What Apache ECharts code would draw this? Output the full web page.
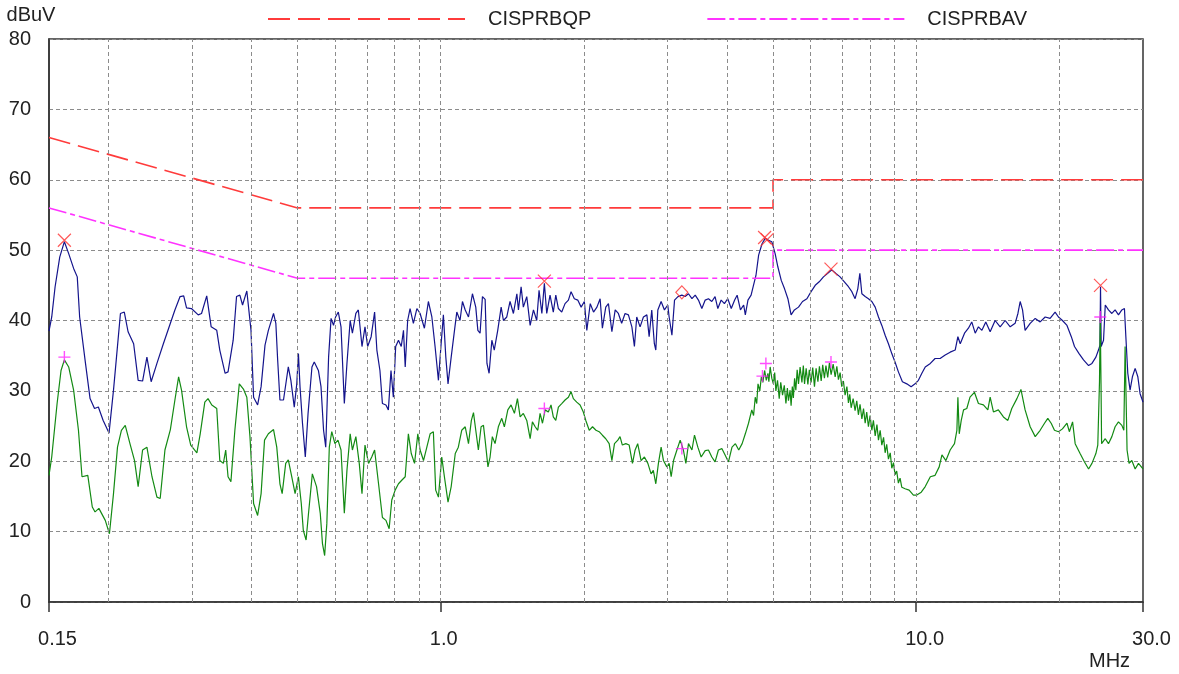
<!DOCTYPE html>
<html><head><meta charset="utf-8">
<script src="https://cdn.jsdelivr.net/npm/echarts@6/dist/echarts.min.js"></script>
<style>html,body{margin:0;padding:0;background:#fff}#c{width:1179px;height:674px}</style>
</head><body><div id="c"></div>
<script>
// ---- data ----
const xGridValues = [0.2,0.3,0.4,0.5,0.6,0.7,0.8,0.9,1,2,3,4,5,6,7,8,9,10,20];
const yTicks = [0,10,20,30,40,50,60,70,80];
const qpLimit = [[0.15,66],[0.5,56],[5,56],[5,60],[30,60]];
const avLimit = [[0.15,56],[0.5,46],[5,46],[5,50],[30,50]];
const qpPeaks = [[0.1616,51.4],[1.652,45.6],[4.80,51.8],[4.86,51.5],[6.62,47.3],[24.42,45.0]];
const qpDiamond = [[3.215,44.0]];
const avPeaks = [[0.1616,34.8],[1.652,27.5],[3.215,21.8],[4.75,32.1],[4.83,33.9],[6.62,34.1],[24.39,40.5]];
const blueTrace = [
[0.150,38.5],[0.152,40.5],[0.1545,44.8],[0.158,49.0],[0.1616,51.2],[0.165,49.5],[0.169,47.4],[0.172,46.2],[0.174,40.5],[0.179,33.9],[0.183,28.9],[0.187,27.5],[0.1905,27.7],[0.195,25.8],[0.2006,24.0],[0.205,30.1],[0.208,34.8],[0.212,41.0],[0.216,41.2],[0.220,38.4],[0.226,36.7],[0.231,31.5],[0.236,31.4],[0.241,34.8],[0.246,31.3],[0.253,33.9],[0.261,36.7],[0.270,39.6],[0.276,41.5],[0.283,43.4],[0.288,43.5],[0.292,41.8],[0.299,41.7],[0.309,40.8],[0.314,41.0],[0.322,43.5],[0.329,39.1],[0.338,38.6],[0.343,35.8],[0.352,32.5],[0.357,32.7],[0.366,37.2],[0.372,43.4],[0.378,43.6],[0.383,42.2],[0.391,44.2],[0.394,44.0],[0.399,38.6],[0.404,29.1],[0.412,28.0],[0.419,30.6],[0.427,36.5],[0.434,38.6],[0.445,41.0],[0.450,39.6],[0.454,34.4],[0.459,28.7],[0.467,28.7],[0.478,33.4],[0.484,31.5],[0.492,27.7],[0.498,31.0],[0.502,35.3],[0.506,30.5],[0.512,25.4],[0.519,20.6],[0.526,26.8],[0.536,33.4],[0.542,34.1],[0.553,32.9],[0.560,30.6],[0.567,24.4],[0.573,22.0],[0.581,34.8],[0.588,40.3],[0.595,39.3],[0.601,40.5],[0.609,41.2],[0.617,39.1],[0.627,28.2],[0.635,33.9],[0.645,40.0],[0.652,38.2],[0.663,41.0],[0.671,41.5],[0.683,36.3],[0.693,39.1],[0.702,36.3],[0.714,37.7],[0.726,41.2],[0.734,35.8],[0.745,32.9],[0.754,28.2],[0.767,28.0],[0.776,27.3],[0.786,32.9],[0.795,29.1],[0.804,36.3],[0.815,37.2],[0.826,36.3],[0.835,38.6],[0.842,33.4],[0.852,40.0],[0.862,41.7],[0.876,39.6],[0.891,41.7],[0.905,41.0],[0.924,38.9],[0.942,42.7],[0.958,40.5],[0.973,36.3],[0.989,31.5],[1.001,36.3],[1.013,40.8],[1.025,34.8],[1.036,31.0],[1.052,34.8],[1.069,38.6],[1.081,41.2],[1.098,40.0],[1.111,42.7],[1.126,41.5],[1.144,40.5],[1.166,43.8],[1.185,41.9],[1.197,38.6],[1.210,38.2],[1.224,43.4],[1.240,43.0],[1.251,33.9],[1.264,32.5],[1.281,37.2],[1.296,35.8],[1.318,38.6],[1.340,41.9],[1.355,40.0],[1.377,40.5],[1.399,42.7],[1.422,41.0],[1.446,43.8],[1.457,41.5],[1.476,44.8],[1.492,41.9],[1.517,43.4],[1.542,39.3],[1.567,41.5],[1.592,40.0],[1.610,44.3],[1.632,41.0],[1.652,45.3],[1.671,41.0],[1.698,43.6],[1.725,41.2],[1.746,43.6],[1.768,41.7],[1.797,41.2],[1.826,42.4],[1.856,42.9],[1.880,44.1],[1.910,43.1],[1.942,42.9],[1.974,41.9],[2.005,42.7],[2.029,38.6],[2.063,42.4],[2.096,41.2],[2.131,41.9],[2.164,43.1],[2.188,38.9],[2.224,41.9],[2.253,42.4],[2.291,38.4],[2.328,41.5],[2.364,41.0],[2.402,39.6],[2.442,41.0],[2.482,40.8],[2.524,39.1],[2.555,36.3],[2.584,40.5],[2.626,39.1],[2.669,40.5],[2.714,40.8],[2.744,37.7],[2.779,41.5],[2.814,36.7],[2.834,35.8],[2.862,41.5],[2.908,42.7],[2.955,41.5],[3.003,42.2],[3.023,40.5],[3.064,37.9],[3.103,42.9],[3.155,43.4],[3.215,43.6],[3.266,43.4],[3.320,43.8],[3.376,43.1],[3.430,43.6],[3.484,42.9],[3.542,41.7],[3.600,42.9],[3.657,43.1],[3.717,42.7],[3.776,43.4],[3.827,41.7],[3.889,42.9],[3.951,42.4],[4.016,43.1],[4.084,41.7],[4.152,42.9],[4.202,43.6],[4.270,41.5],[4.337,42.2],[4.372,40.8],[4.428,42.9],[4.496,43.6],[4.548,45.0],[4.603,46.4],[4.663,49.3],[4.741,50.9],[4.817,51.7],[4.892,51.4],[4.970,51.2],[5.051,49.5],[5.119,47.6],[5.203,45.7],[5.287,44.5],[5.373,43.1],[5.457,40.8],[5.545,41.5],[5.656,41.9],[5.768,42.7],[5.891,43.1],[6.012,44.1],[6.133,45.0],[6.253,45.5],[6.383,46.2],[6.516,46.7],[6.647,47.2],[6.778,46.7],[6.918,46.2],[7.063,45.5],[7.204,44.8],[7.324,44.1],[7.440,43.1],[7.538,44.5],[7.613,46.7],[7.688,43.8],[7.812,43.4],[7.936,43.1],[8.068,42.7],[8.200,41.9],[8.332,40.5],[8.468,39.3],[8.605,37.9],[8.744,36.7],[8.887,35.3],[9.027,34.1],[9.176,32.7],[9.356,31.3],[9.557,31.0],[9.759,30.6],[9.948,31.0],[10.11,31.5],[10.28,32.5],[10.45,33.4],[10.71,33.9],[10.96,34.6],[11.23,34.6],[11.51,35.1],[11.79,35.5],[12.08,35.8],[12.24,37.7],[12.38,36.7],[12.64,38.2],[12.88,38.9],[13.09,39.8],[13.31,38.2],[13.52,39.1],[13.75,38.6],[14.01,39.8],[14.31,38.4],[14.66,40.0],[15.02,39.1],[15.39,40.0],[15.77,39.1],[16.15,39.6],[16.37,41.0],[16.55,42.7],[16.74,41.5],[16.95,38.6],[17.37,39.6],[17.80,40.3],[18.23,39.8],[18.68,40.5],[19.13,40.3],[19.60,41.2],[19.92,40.5],[20.31,40.0],[20.76,39.3],[21.20,37.7],[21.53,36.3],[22.01,35.3],[22.49,34.4],[23.05,33.6],[23.43,33.9],[23.88,34.8],[24.18,35.8],[24.36,36.5],[24.42,44.8],[24.50,36.3],[24.78,37.2],[24.99,42.2],[25.38,41.5],[25.80,41.0],[26.21,41.5],[26.64,40.8],[27.08,41.5],[27.42,41.7],[27.61,37.7],[27.87,32.5],[28.18,30.1],[28.50,32.0],[28.88,33.2],[29.26,32.0],[29.58,29.6],[30.0,28.4]
];
const greenTrace = [
[0.150,18.0],[0.152,20.6],[0.156,28.2],[0.159,32.9],[0.1616,34.4],[0.165,33.4],[0.169,30.1],[0.173,24.4],[0.176,17.8],[0.181,18.0],[0.185,13.5],[0.1875,12.8],[0.191,13.3],[0.197,11.6],[0.201,9.7],[0.205,15.4],[0.209,22.0],[0.213,24.4],[0.217,25.1],[0.222,22.5],[0.227,20.1],[0.231,16.4],[0.236,21.6],[0.241,22.0],[0.247,17.8],[0.253,14.9],[0.257,14.7],[0.263,21.6],[0.270,24.5],[0.276,28.7],[0.281,32.0],[0.285,30.1],[0.292,24.9],[0.298,22.3],[0.307,21.2],[0.312,23.9],[0.319,28.4],[0.324,28.9],[0.330,28.0],[0.338,27.5],[0.343,20.1],[0.349,19.7],[0.353,21.6],[0.357,17.8],[0.362,17.1],[0.369,24.4],[0.377,31.0],[0.385,30.2],[0.391,29.1],[0.397,23.5],[0.404,14.0],[0.412,12.3],[0.419,15.4],[0.426,23.0],[0.434,23.9],[0.445,24.5],[0.452,22.0],[0.459,16.8],[0.464,15.4],[0.472,19.7],[0.478,20.2],[0.486,17.8],[0.494,15.4],[0.502,17.8],[0.509,14.0],[0.514,10.2],[0.521,8.8],[0.527,12.5],[0.537,18.2],[0.548,16.4],[0.558,12.6],[0.564,8.3],[0.570,6.6],[0.576,11.1],[0.583,22.0],[0.590,24.2],[0.599,22.5],[0.608,23.0],[0.617,21.6],[0.627,12.6],[0.635,18.7],[0.645,23.9],[0.652,21.6],[0.663,23.5],[0.674,19.7],[0.683,15.4],[0.693,22.3],[0.705,19.7],[0.716,20.6],[0.726,21.6],[0.740,16.8],[0.754,12.0],[0.767,11.6],[0.779,10.4],[0.789,14.5],[0.802,15.9],[0.815,16.8],[0.828,17.3],[0.842,17.8],[0.855,23.9],[0.867,21.1],[0.881,19.7],[0.895,23.9],[0.905,21.6],[0.920,20.1],[0.935,22.0],[0.950,23.9],[0.965,24.2],[0.976,15.9],[0.989,14.9],[1.005,20.6],[1.018,17.8],[1.036,14.2],[1.052,16.4],[1.073,21.1],[1.089,22.0],[1.107,24.4],[1.126,24.9],[1.144,22.5],[1.160,25.8],[1.172,26.9],[1.185,24.4],[1.200,21.6],[1.216,24.9],[1.230,25.1],[1.240,23.0],[1.257,19.2],[1.270,20.6],[1.284,23.5],[1.301,22.5],[1.322,24.9],[1.344,26.1],[1.361,24.9],[1.384,27.3],[1.406,28.0],[1.429,26.8],[1.450,28.9],[1.469,26.3],[1.492,26.8],[1.517,25.8],[1.542,23.2],[1.559,25.6],[1.580,24.9],[1.600,24.4],[1.618,26.8],[1.637,25.4],[1.658,27.3],[1.684,27.0],[1.706,28.0],[1.725,26.3],[1.746,25.8],[1.768,27.7],[1.797,28.2],[1.826,28.7],[1.856,29.1],[1.880,29.9],[1.901,28.9],[1.932,28.4],[1.964,28.0],[1.995,27.0],[2.019,25.8],[2.053,24.4],[2.086,24.9],[2.121,24.4],[2.154,24.2],[2.188,23.7],[2.224,23.2],[2.261,22.5],[2.291,20.1],[2.320,22.5],[2.358,23.0],[2.383,23.5],[2.410,22.3],[2.451,22.5],[2.491,22.3],[2.531,19.7],[2.564,21.6],[2.596,22.5],[2.639,20.1],[2.682,20.6],[2.727,19.7],[2.770,18.2],[2.800,18.7],[2.834,16.8],[2.870,19.7],[2.908,22.0],[2.941,20.1],[2.989,19.2],[3.023,19.7],[3.053,17.8],[3.088,20.1],[3.139,21.6],[3.189,23.0],[3.239,21.6],[3.278,19.7],[3.320,22.5],[3.376,21.6],[3.418,23.7],[3.474,22.0],[3.530,20.6],[3.600,21.5],[3.657,21.6],[3.717,20.6],[3.776,19.9],[3.838,21.6],[3.902,21.8],[3.964,20.9],[4.029,19.9],[4.099,22.0],[4.167,22.5],[4.235,21.6],[4.305,22.5],[4.372,23.9],[4.440,25.4],[4.511,27.3],[4.55,26.5],[4.587,29.1],[4.62,28.2],[4.649,31.0],[4.69,30.0],[4.725,32.0],[4.76,31.2],[4.800,32.9],[4.84,31.5],[4.878,32.5],[4.90,31.3],[4.931,33.4],[4.97,31.8],[5.008,31.0],[5.04,32.6],[5.069,30.0],[5.11,31.5],[5.152,28.9],[5.19,31.2],[5.236,29.4],[5.28,30.8],[5.322,28.2],[5.36,30.4],[5.388,28.6],[5.43,30.1],[5.457,27.9],[5.49,30.6],[5.517,29.0],[5.55,31.8],[5.584,30.1],[5.62,33.0],[5.656,31.0],[5.70,33.4],[5.751,31.2],[5.79,33.6],[5.824,31.0],[5.87,33.2],[5.919,30.9],[5.96,33.0],[6.012,31.2],[6.06,33.3],[6.111,30.6],[6.16,33.2],[6.214,31.3],[6.26,33.5],[6.313,31.4],[6.36,33.7],[6.413,31.8],[6.46,33.6],[6.516,31.9],[6.57,34.0],[6.624,32.3],[6.69,33.8],[6.755,32.0],[6.81,33.5],[6.863,31.6],[6.92,32.6],[6.974,30.6],[7.03,31.4],[7.088,29.4],[7.15,30.6],[7.204,28.3],[7.25,29.5],[7.299,27.6],[7.37,28.9],[7.440,27.2],[7.50,28.6],[7.560,26.6],[7.62,28.1],[7.688,26.0],[7.75,27.5],[7.812,25.4],[7.87,27.0],[7.936,24.9],[8.00,26.5],[8.068,24.4],[8.13,25.8],[8.200,23.6],[8.27,25.2],[8.332,23.0],[8.40,24.4],[8.468,22.3],[8.54,23.4],[8.605,21.2],[8.67,22.4],[8.744,20.3],[8.82,21.2],[8.887,19.0],[8.96,19.8],[9.027,18.1],[9.10,18.6],[9.176,16.9],[9.25,17.6],[9.329,16.3],[9.478,16.1],[9.665,15.9],[9.868,15.2],[10.03,15.2],[10.25,15.6],[10.45,16.4],[10.71,17.8],[10.96,18.0],[11.18,19.2],[11.33,20.9],[11.55,20.1],[11.79,21.6],[12.04,22.5],[12.18,24.4],[12.24,29.1],[12.32,23.9],[12.44,25.8],[12.58,27.3],[12.78,27.5],[12.98,29.1],[13.26,29.8],[13.52,28.2],[13.85,28.0],[14.15,27.3],[14.31,29.1],[14.54,27.0],[14.89,27.3],[15.26,26.3],[15.59,25.8],[15.89,27.5],[16.29,28.9],[16.61,30.2],[16.95,27.3],[17.37,24.9],[17.80,23.5],[18.23,24.4],[18.62,25.4],[18.92,26.1],[19.23,25.4],[19.54,24.4],[19.92,24.2],[20.31,24.6],[20.76,25.4],[21.00,24.2],[21.33,25.6],[21.60,22.5],[22.12,21.1],[22.60,19.9],[23.05,18.9],[23.43,19.7],[23.88,21.1],[24.10,22.3],[24.30,31.3],[24.39,40.5],[24.48,31.0],[24.55,22.5],[24.99,23.2],[25.38,22.5],[25.80,23.5],[26.21,24.9],[26.64,25.6],[27.08,25.1],[27.34,24.4],[27.51,36.3],[27.64,29.1],[27.77,21.6],[28.04,19.7],[28.42,20.1],[28.88,18.9],[29.35,19.7],[30.0,18.9]
];

// ---- chart ----
const FONT = "'Liberation Sans', Arial, sans-serif";
const TXT = '#222';
const GRIDC = '#8c8c8c';
const chart = echarts.init(document.getElementById('c'), null, {renderer: 'canvas'});
chart.setOption({
  animation: false,
  backgroundColor: '#fff',
  textStyle: {fontFamily: FONT},
  title: {text: 'MHz', left: 1089, top: 651, padding: 0,
          textStyle: {fontSize: 20, fontWeight: 'normal', color: TXT, fontFamily: FONT}},
  grid: {left: 49, right: 36, top: 39, bottom: 72, show: true, borderColor: '#333', borderWidth: 1.5, backgroundColor: 'transparent'},
  legend: {
    left: 262, top: 4, itemWidth: 197, itemHeight: 20, itemGap: 115,
    data: ['CISPRBQP', 'CISPRBAV'],
    itemStyle: {opacity: 0},
    textStyle: {fontSize: 20, color: TXT, fontFamily: FONT, padding: [0, 0, 0, 18]}
  },
  xAxis: {
    type: 'log', logBase: 10, min: 0.15, max: 30,
    axisLine: {lineStyle: {color: '#333', width: 1.5}},
    axisTick: {show: true, length: 10, lineStyle: {color: '#333', width: 1.5}},
    splitLine: {show: false},
    minorTick: {show: false},
    axisLabel: {
      margin: 27, fontSize: 20, color: TXT, fontFamily: FONT,
      formatter: function (v) {
        const s = v < 1 ? v.toFixed(2) : v.toFixed(1);
        return s.length >= 4 ? '{a|' + s + '}' : '{b|' + s + '}';
      },
      rich: {
        a: {fontSize: 20, color: TXT, fontFamily: FONT, padding: [0, 0, 0, 17]},
        b: {fontSize: 20, color: TXT, fontFamily: FONT, padding: [0, 0, 0, 6]}
      }
    }
  },
  yAxis: {
    type: 'value', min: yTicks[0], max: yTicks[yTicks.length - 1], interval: 10,
    name: 'dBuV', nameLocation: 'end', nameGap: 14,
    nameTextStyle: {fontSize: 20, color: TXT, fontFamily: FONT, align: 'center', padding: [0, 36, 0, 0]},
    axisLine: {show: true, lineStyle: {color: '#333', width: 1.5}},
    axisTick: {show: false},
    axisLabel: {margin: 18, fontSize: 20, color: TXT, fontFamily: FONT},
    splitLine: {show: true, lineStyle: {color: GRIDC, type: [4, 3], width: 1}}
  },
  series: [
    {
      type: 'line', data: [], silent: true, z: 1,
      markLine: {
        silent: true, symbol: ['none', 'none'], animation: false,
        label: {show: false},
        lineStyle: {color: GRIDC, type: [4, 3], width: 1},
        emphasis: {disabled: true},
        data: xGridValues.map(v => ({xAxis: v}))
      }
    },
    {name: 'CISPRBQP', type: 'line', data: qpLimit, symbol: 'none', silent: true, z: 4,
     lineStyle: {color: '#ff3b3b', width: 1.6, type: [22, 8]}},
    {name: 'CISPRBAV', type: 'line', data: avLimit, symbol: 'none', silent: true, z: 4,
     lineStyle: {color: '#ff33ff', width: 1.6, type: [18, 4, 5, 4]}},
    {name: 'QP trace', type: 'line', data: blueTrace, symbol: 'none', silent: true, z: 3,
     lineStyle: {color: '#14148c', width: 1.2}},
    {name: 'AV trace', type: 'line', data: greenTrace, symbol: 'none', silent: true, z: 3,
     lineStyle: {color: '#138a13', width: 1.2}},
    {name: 'QP peaks', type: 'scatter', data: qpPeaks, z: 5, silent: true,
     symbol: 'path://M0,0L10,10M10,0L0,10', symbolSize: 13,
     itemStyle: {color: 'transparent', borderColor: '#ff3030', borderWidth: 1.2}},
    {name: 'QP diamond', type: 'scatter', data: qpDiamond, z: 5, silent: true,
     symbol: 'diamond', symbolSize: [12, 13],
     itemStyle: {color: 'transparent', borderColor: '#ff3030', borderWidth: 1.2}},
    {name: 'AV peaks', type: 'scatter', data: avPeaks, z: 5, silent: true,
     symbol: 'path://M5,0L5,10M0,5L10,5', symbolSize: 12,
     itemStyle: {color: 'transparent', borderColor: '#ff22ff', borderWidth: 1.4}}
  ]
});
</script></body></html>
